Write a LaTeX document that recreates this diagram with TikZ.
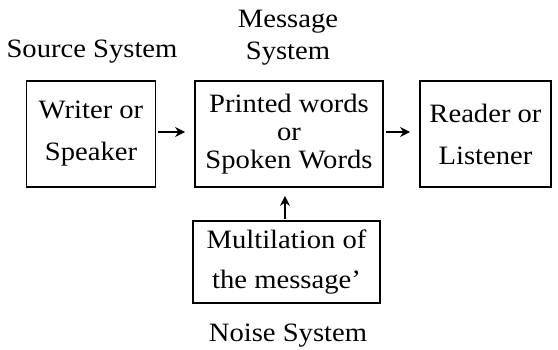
\documentclass[tikz,border=0pt]{standalone}
\usepackage{fontspec}
\setmainfont{Liberation Serif}[FakeStretch=1.08]
\usetikzlibrary{arrows.meta}
\begin{document}
\begin{tikzpicture}[x=1pt,y=-1pt,
  sysbox/.style={draw,line width=1.8pt,align=center,inner sep=0pt,
    font=\fontsize{26.5}{42}\selectfont},
  lbl/.style={align=center,inner sep=0pt,font=\fontsize{26.5}{32}\selectfont},
  arr/.style={line width=1.8pt,-{Stealth[length=10pt,width=10pt]}}]
\useasboundingbox (0,0) rectangle (558,349);
\node[sysbox,minimum width=129pt,minimum height=106pt] (src) at (91,134) {Writer or\\Speaker};
\node[sysbox,minimum width=188pt,minimum height=106pt,font=\fontsize{26.5}{28}\selectfont] (msg) at (289,134) {Printed words\\or\\Spoken Words};
\node[sysbox,minimum width=131pt,minimum height=106pt] (rcv) at (485.5,134) {Reader or\\Listener};
\node[sysbox,minimum width=187pt,minimum height=82pt,font=\fontsize{26.5}{40}\selectfont] (noise) at (286.5,262) {Multilation of\\the message'};
\node[lbl] (srcl) at (92,52) {Source System};
\node[lbl] (msgl) at (288,38) {Message\\System};
\node[lbl] (noisel) at (288,336) {Noise System};
\draw[arr,shorten <=2pt,shorten >=9pt] (src.east |- 0,132) -- (msg.west |- 0,132);
\draw[arr,shorten <=2pt,shorten >=9pt] (msg.east |- 0,132) -- (rcv.west |- 0,132);
\draw[arr,shorten <=1pt,shorten >=8pt] (noise.north -| 285,0) -- (msg.south -| 285,0);
\end{tikzpicture}
\end{document}
